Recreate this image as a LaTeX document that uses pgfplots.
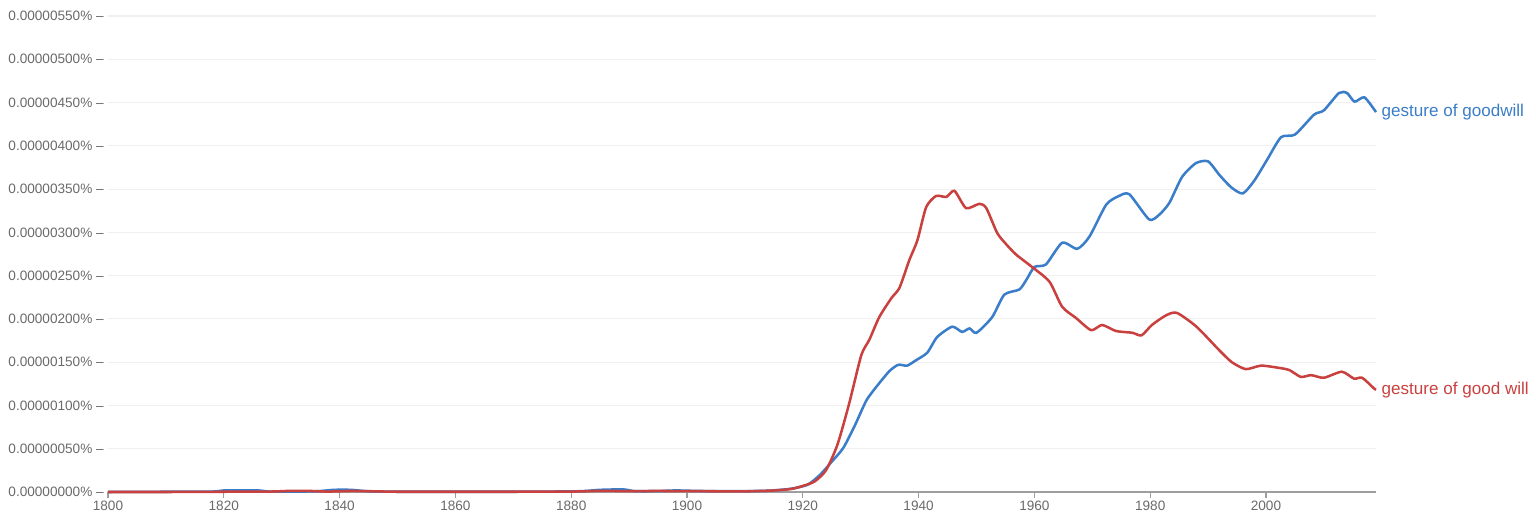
\documentclass[border=0pt]{standalone}
\usepackage{fontspec}
\setmainfont{Liberation Sans}
\usepackage{pgfplots}
\pgfplotsset{compat=1.18}
\definecolor{tgray}{HTML}{6A6A6A}
\definecolor{gblue}{HTML}{3A7DC9}
\definecolor{gred}{HTML}{C9413F}
\definecolor{gridc}{HTML}{F0F0F0}
\definecolor{axc}{HTML}{9E9E9E}
\begin{document}
\begin{tikzpicture}
\useasboundingbox (-81pt,-22.5pt) rectangle (1071pt,369pt);
\begin{axis}[
  scale only axis, width=951pt, height=357pt,
  xmin=1800, xmax=2019, ymin=0, ymax=550,
  axis lines*=left,
  x axis line style={draw=axc, line width=0.9pt},
  y axis line style={draw=none},
  xtick={1800,1820,...,2000},
  xticklabels={1800,1820,1840,1860,1880,1900,1920,1940,1960,1980,2000},
  ytick={0,50,...,550},
  yticklabels={0.00000000\% --,0.00000050\% --,0.00000100\% --,0.00000150\% --,0.00000200\% --,0.00000250\% --,0.00000300\% --,0.00000350\% --,0.00000400\% --,0.00000450\% --,0.00000500\% --,0.00000550\% --},
  tick align=outside,
  major tick length=4.5pt,
  x tick style={draw=axc, line width=0.9pt},
  y tick style={draw=none},
  ymajorgrids, grid style={draw=gridc, line width=0.8pt},
  xticklabel style={font=\fontsize{10.2}{12}\selectfont, text=tgray, yshift=1.5pt},
  yticklabel style={font=\fontsize{10.2}{12}\selectfont, text=tgray, inner sep=0pt, xshift=1.5pt},
  clip=false,
]
\addplot[gblue, line width=1.9pt, smooth, tension=0.4] coordinates {
(1800,0) (1810,0.3) (1818,0.5) (1820,1.8) (1823,2) (1826,1.8) (1828,0.4) (1832,0.5) (1836,0.8)
(1839,2.5) (1842,2.5) (1845,0.8) (1850,0.3) (1860,0.3) (1870,0.3) (1878,0.6) (1882,1)
(1885,2.5) (1889,3) (1891,1) (1895,1) (1898,1.8) (1902,1.2) (1906,1) (1910,1) (1914,1.5)
(1917,3) (1919,5) (1921,9) (1923,20) (1925,35) (1927,51) (1929,77) (1931,106) (1933,124)
(1935,140) (1936.5,147) (1938,146) (1939.5,152) (1941.5,161) (1943.2,179) (1945.8,191)
(1947.5,185) (1948.8,189) (1950,184) (1952.7,202) (1954.8,228) (1957.4,234) (1958.6,245)
(1960,260) (1962,263) (1964.8,288) (1967.4,281) (1969.5,295) (1972.4,332) (1974.6,342)
(1976.4,344) (1979.8,315) (1981.5,320) (1983.3,334) (1985.5,364) (1987.9,380) (1990,382)
(1992,366) (1994,352) (1996,345) (1998,360) (2000.2,384) (2002.6,410) (2005,413)
(2008.3,436) (2010,441) (2012.6,461) (2014,461) (2015.3,451) (2017,456) (2019,439)
} node[pos=1, anchor=west, font=\fontsize{12.8}{14}\selectfont, text=gblue, xshift=0pt] {gesture of goodwill};
\addplot[gred, line width=1.9pt, smooth, tension=0.4] coordinates {
(1800,0) (1810,0) (1820,0.3) (1828,0.5) (1831,1.2) (1835,1.2) (1838,0.5) (1842,1.2) (1846,0.8)
(1850,0.3) (1860,0.3) (1870,0.3) (1880,0.5) (1885,1.3) (1890,1) (1895,1.2) (1900,1)
(1910,0.8) (1915,1.8) (1918,3.5) (1920,7) (1922,12) (1924,25) (1926,55) (1928,102)
(1930.1,158) (1931.5,176) (1933.2,202) (1935.3,224) (1936.7,236) (1938.4,268)
(1939.8,291) (1941.3,329) (1943,342) (1944.8,341) (1946.2,348) (1948.2,328) (1950.5,333)
(1951.7,328) (1953.6,299) (1955.3,285) (1956.9,274) (1959.6,260) (1962.6,243) (1964.8,214)
(1967.2,201) (1969.8,187) (1971.7,193) (1974.1,186) (1976.9,184) (1978.5,181) (1980.3,193)
(1982.7,204) (1984.6,207) (1988,191) (1991.9,164) (1994.1,150) (1996.5,142) (1999.1,146)
(2001.7,144) (2004,141) (2006,133) (2007.8,135) (2010,132) (2013.1,139) (2015.2,131)
(2016.6,132) (2018.6,120) (2019,118)
} node[pos=1, anchor=west, font=\fontsize{12.8}{14}\selectfont, text=gred, xshift=0pt] {gesture of good will};
\end{axis}
\end{tikzpicture}
\end{document}
